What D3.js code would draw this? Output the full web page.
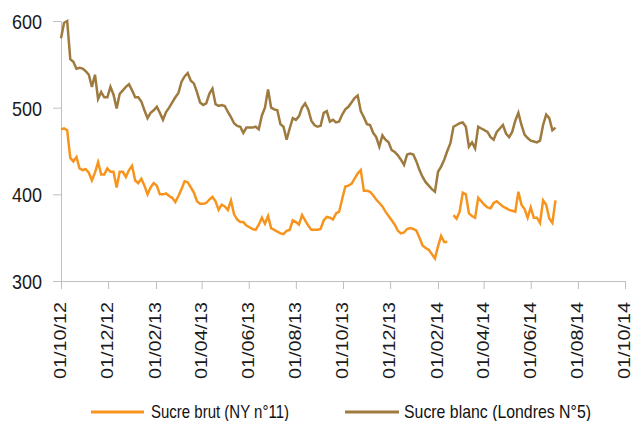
<!DOCTYPE html>
<html>
<head>
<meta charset="utf-8">
<script src="https://cdn.jsdelivr.net/npm/d3@7"></script>
<style>
  body { margin: 0; background: #fff; }
  svg { display: block; }
  .axis text { font-family: "Liberation Sans Narrow", "Arial Narrow", sans-serif; fill: #1a1a1a; }
  .axis path, .axis line { stroke: #bfbfbf; }
  .legend text { font-family: "Liberation Sans Narrow", "Arial Narrow", sans-serif; font-size: 19px; fill: #111; }
</style>
</head>
<body>
<div id="chart"></div>
<script>
// Prix quotidiens, un relevé tous les 4 jours depuis le 01/10/2012
const startDate = new Date(2012, 9, 1);
const stepDays = 4;

const brut = [
  475, 476, 474, 442, 438, 443, 430, 428, 429, 425,
  416, 425, 437, 423, 423, 430, 426, 426, 408, 426,
  426, 420, 428, 433, 416, 413, 418, 410, 400, 408,
  413, 410, 400, 400, 401, 398, 396, 391, 398, 406,
  415, 414, 408, 402, 392, 389, 389, 390, 394, 397,
  392, 382, 388, 386, 382, 393, 377, 371, 368, 368,
  364, 362, 360, 359, 365, 373, 366, 375, 361, 359,
  357, 355, 354, 358, 359, 370, 368, 365, 376, 370,
  364, 359, 359, 359, 360, 370, 374, 373, 371, 378,
  380, 395, 409, 410, 412, 418, 424, 428, 404, 404,
  403, 399, 394, 390, 386, 380, 375, 370, 365, 358,
  355, 356, 360, 361, 360, 358, 350, 341, 338, 336,
  331, 326, 340, 352, 345, 345, null, 376, 372, 380,
  402, 400, 378, 375, 373, 396, 392, 388, 385, 384,
  390, 392, 389, 386, 384, 382, 381, 380, 403, 388,
  383, 373, 385, 373, 373, 367, 393, 388, 372, 367,
  393
];

const blanc = [
  580, 598, 600, 556, 553, 545, 546, 545, 542, 538,
  524, 538, 510, 518, 512, 512, 524, 515, 499, 516,
  520, 524, 527, 520, 512, 512, 507, 497, 488, 494,
  497, 501, 494, 486, 495, 500, 506, 512, 517, 530,
  536, 540, 531, 528, 518, 506, 503, 505, 516, 522,
  504, 502, 503, 502, 495, 489, 482, 479, 478, 471,
  477, 477, 477, 478, 475, 491, 500, 521, 500, 498,
  497, 481, 478, 463, 476, 488, 486, 490, 500, 505,
  498, 485, 480, 478, 479, 494, 496, 484, 486, 483,
  484, 492, 498, 501, 506, 511, 514, 496, 489, 481,
  480, 471, 466, 455, 468, 463, 460, 451, 449, 445,
  440, 434, 446, 447, 446, 438, 428, 420, 414, 410,
  406, 403, 426, 432, 440, 450, 459, 478, 480, 482,
  483, 478, 455, 460, 453, 478, 476, 474, 472, 466,
  463, 472, 476, 480, 470, 466, 472, 485, 494, 480,
  469, 465, 462, 461, 460, 462, 480, 492, 488, 474,
  477
];

const series = [
  { name: "Sucre brut (NY n°11)", values: brut, color: "#f7941e" },
  { name: "Sucre blanc (Londres N°5)", values: blanc, color: "#9e7a3e" }
];

const xTickLabels = [
  "01/10/12", "01/12/12", "01/02/13", "01/04/13", "01/06/13", "01/08/13",
  "01/10/13", "01/12/13", "01/02/14", "01/04/14", "01/06/14", "01/08/14", "01/10/14"
];
const yTicks = [300, 400, 500, 600];

const parseDate = d3.timeParse("%d/%m/%y");
const xTicks = xTickLabels.map(parseDate);

const width = 634, height = 421;
const svg = d3.select("#chart").append("svg")
  .attr("width", width)
  .attr("height", height);

const x = d3.scaleTime()
  .domain([xTicks[0], xTicks[xTicks.length - 1]])
  .range([61, 625]);

const y = d3.scaleLinear()
  .domain([300, 600])
  .range([281, 21]);

const dateAt = i => d3.timeDay.offset(startDate, i * stepDays);

// Axe Y
svg.append("g")
  .attr("class", "axis")
  .attr("transform", "translate(61,0)")
  .call(d3.axisLeft(y).tickValues(yTicks).tickSize(8).tickPadding(11))
  .call(g => g.selectAll("text")
    .style("font-size", "21px")
    .attr("dy", "0.36em")
    .attr("textLength", 30)
    .attr("lengthAdjust", "spacingAndGlyphs"));

// Axe X
svg.append("g")
  .attr("class", "axis")
  .attr("transform", "translate(0,281)")
  .call(d3.axisBottom(x)
    .tickValues(xTicks)
    .tickFormat(d3.timeFormat("%d/%m/%y"))
    .tickSize(8))
  .call(g => g.selectAll("text")
    .style("font-size", "17px")
    .attr("transform", "rotate(-90)")
    .attr("text-anchor", "end")
    .attr("x", -21)
    .attr("y", 0)
    .attr("dy", "0.28em")
    .attr("textLength", 77)
    .attr("lengthAdjust", "spacingAndGlyphs"));

// Courbes
const line = d3.line()
  .defined(d => d != null)
  .x((d, i) => x(dateAt(i)))
  .y(d => y(d));

svg.selectAll(".serie")
  .data(series)
  .enter().append("path")
  .attr("class", "serie")
  .attr("fill", "none")
  .attr("stroke", d => d.color)
  .attr("stroke-width", 2.5)
  .attr("stroke-linejoin", "miter")
  .attr("d", d => line(d.values));

// Légende
const legend = [
  { x1: 91, x2: 144, tx: 151, len: 138 },
  { x1: 345, x2: 399, tx: 404, len: 187 }
];

const lg = svg.append("g").attr("class", "legend");
series.forEach((s, i) => {
  const p = legend[i];
  lg.append("line")
    .attr("x1", p.x1).attr("x2", p.x2)
    .attr("y1", 412).attr("y2", 412)
    .attr("stroke", s.color)
    .attr("stroke-width", 3);
  lg.append("text")
    .attr("x", p.tx)
    .attr("y", 418)
    .attr("textLength", p.len)
    .attr("lengthAdjust", "spacingAndGlyphs")
    .text(s.name);
});
</script>
</body>
</html>
